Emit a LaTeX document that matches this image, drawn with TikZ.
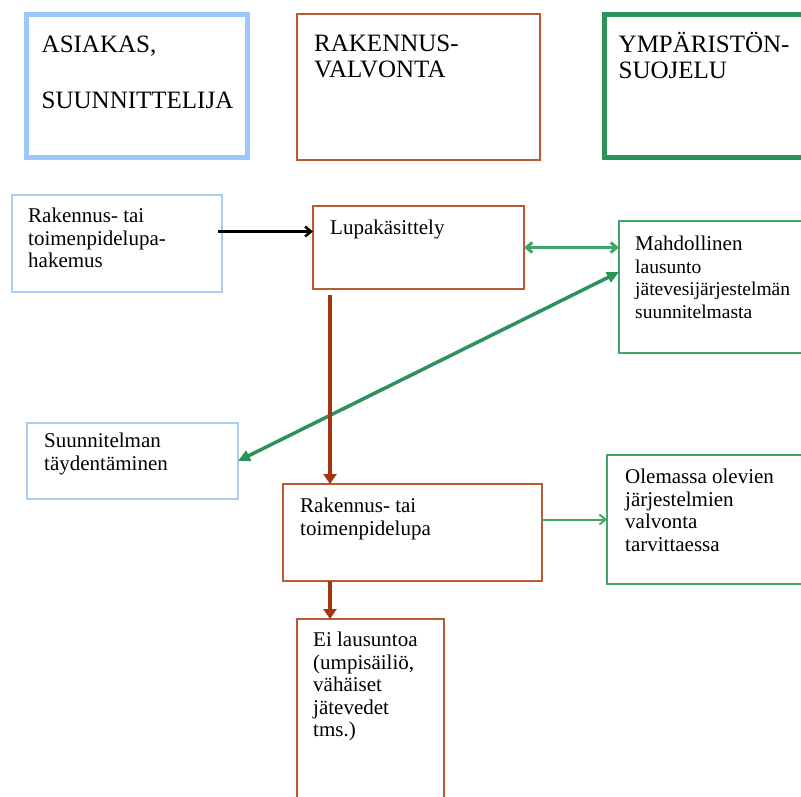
\documentclass[tikz,border=0pt]{standalone}
\usepackage{fontspec}
\setmainfont{Liberation Serif}
\usetikzlibrary{positioning, arrows.meta}

\definecolor{asiakasblue}{RGB}{155,200,250}
\definecolor{lightblue}{RGB}{170,205,240}
\definecolor{rvbrown}{RGB}{185,90,50}
\definecolor{arrowbrown}{RGB}{165,55,15}
\definecolor{ysgreen}{RGB}{45,145,90}
\definecolor{thingreen}{RGB}{65,165,105}

\newcommand{\headfont}{\fontsize{25}{26}\selectfont}
\newcommand{\bodyfont}{\fontsize{21}{22.5}\selectfont}
\newcommand{\smallbody}{\fontsize{19.5}{22.5}\selectfont}

\tikzset{
    box/.style={rectangle, anchor=north west, inner sep=0pt, outer sep=0pt},
    bluehead/.style={box, draw=asiakasblue, line width=5pt},
    brownhead/.style={box, draw=rvbrown, line width=1.5pt},
    greenhead/.style={box, draw=ysgreen, line width=5pt},
    bluebox/.style={box, draw=lightblue, line width=1.2pt},
    brownbox/.style={box, draw=rvbrown, line width=1.5pt},
    greenbox/.style={box, draw=thingreen, line width=1.5pt},
    headtxt/.style={anchor=north west, align=left, inner sep=0pt, font=\headfont},
    txt/.style={anchor=north west, align=left, inner sep=0pt, font=\bodyfont},
    blackarrow/.style={draw=black, line width=2.5pt, -{Straight Barb[length=6pt, width=10pt]}},
    greenarrow/.style={draw=thingreen, line width=3pt},
    diagarrow/.style={draw=ysgreen, line width=3.5pt, {Triangle[length=12pt, width=11pt]}-{Triangle[length=12pt, width=11pt]}},
    brownarrow/.style={draw=arrowbrown, line width=3.5pt, -{Triangle[length=10pt, width=13pt]}},
}

\begin{document}
\begin{tikzpicture}[x=1pt, y=-1pt]

    \useasboundingbox (0,0) rectangle (801,796);
    \clip (0,0) rectangle (801,796);

    % otsikot
    \node[bluehead, minimum width=221pt, minimum height=143pt,
        label={[headtxt, xshift=15pt, yshift=-21pt]north west:ASIAKAS,\\[30pt]SUUNNITTELIJA}] (asiakas) at (26.5,14.5) {};
    \node[brownhead, minimum width=243pt, minimum height=146pt,
        label={[headtxt, xshift=17pt, yshift=-21pt]north west:RAKENNUS-\\VALVONTA}] (rakval) at (297,14) {};
    \node[greenhead, minimum width=230pt, minimum height=143pt,
        label={[headtxt, xshift=14pt, yshift=-18pt]north west:YMPÄRISTÖN-\\SUOJELU}] (ymparisto) at (604.5,14.5) {};

    % laatikot
    \node[bluebox, minimum width=210pt, minimum height=97pt,
        label={[txt, xshift=16pt, yshift=-13pt]north west:Rakennus- tai\\toimenpidelupa-\\hakemus}] (hakemus) at (12,195) {};
    \node[brownbox, minimum width=211pt, minimum height=83pt,
        label={[txt, xshift=17pt, yshift=-14pt]north west:Lupakäsittely}] (lupa) at (313,206) {};
    \node[greenbox, minimum width=220pt, minimum height=132pt,
        label={[txt, xshift=16pt, yshift=-15pt]north west:Mahdollinen\\{\smallbody lausunto}\\{\smallbody jätevesijärjestelmän}\\{\smallbody suunnitelmasta}}] (lausunto) at (619,221) {};
    \node[bluebox, minimum width=211pt, minimum height=76pt,
        label={[txt, xshift=17pt, yshift=-10pt]north west:Suunnitelman\\täydentäminen}] (taydennys) at (27,423) {};
    \node[brownbox, minimum width=259pt, minimum height=97pt,
        label={[txt, xshift=17pt, yshift=-14pt]north west:Rakennus- tai\\toimenpidelupa}] (lupapaatos) at (283,484) {};
    \node[greenbox, minimum width=230pt, minimum height=129pt,
        label={[txt, xshift=18pt, yshift=-14pt]north west:Olemassa olevien\\järjestelmien\\valvonta\\tarvittaessa}] (valvonta) at (607,455) {};
    \node[brownbox, minimum width=147pt, minimum height=200pt,
        label={[txt, xshift=16pt, yshift=-13pt]north west:Ei lausuntoa\\(umpisäiliö,\\vähäiset\\jätevedet\\tms.)}] (eilausuntoa) at (297,619) {};

    % nuolet
    \coordinate (pudotus) at ([xshift=17pt]lupa.south west);

    \draw[blackarrow] ([xshift=-4pt, yshift=12pt]hakemus.east) -- ([yshift=12pt]hakemus.east -| lupa.west);
    \draw[greenarrow, {Straight Barb[length=6pt, width=10pt]}-{Straight Barb[length=6pt, width=10pt]}] (lupa.east) -- (lupa.east -| lausunto.west);
    \draw[diagarrow] (taydennys.east) -- ([yshift=15pt]lausunto.west);
    \draw[brownarrow] ([yshift=-6pt]pudotus) -- (pudotus |- lupapaatos.north);
    \draw[greenarrow, line width=2pt, -{Straight Barb[length=6pt, width=10pt]}] (valvonta.west -| lupapaatos.east) -- (valvonta.west);
    \draw[brownarrow] (pudotus |- lupapaatos.south) -- (pudotus |- eilausuntoa.north);

\end{tikzpicture}
\end{document}
